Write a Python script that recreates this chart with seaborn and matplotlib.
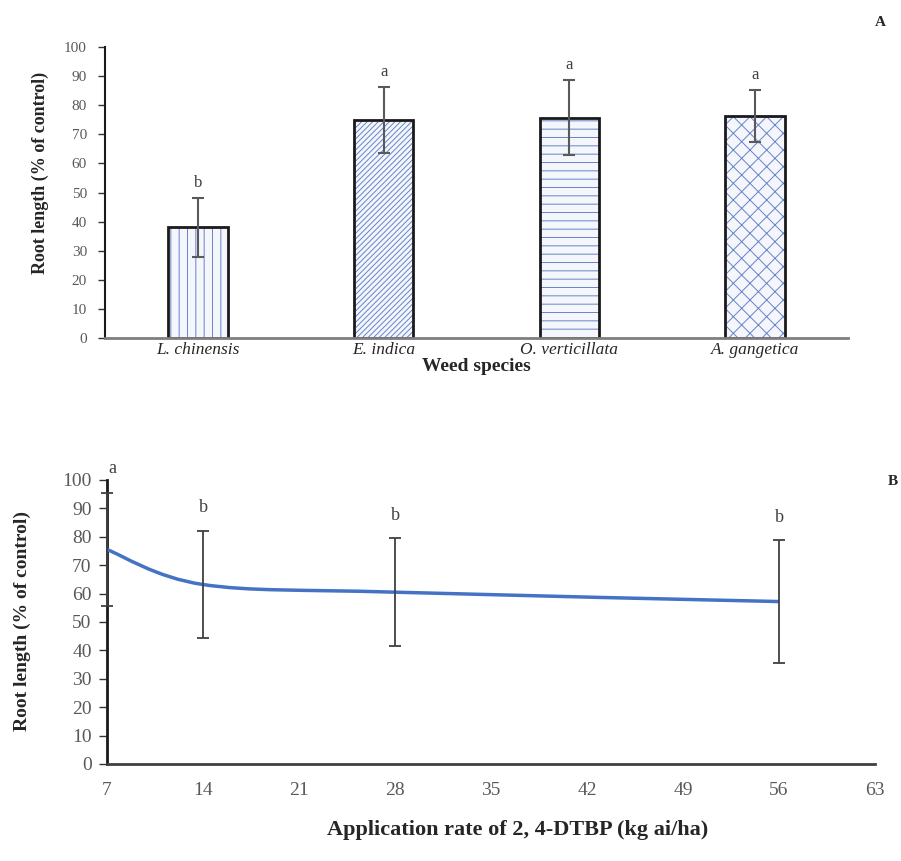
import matplotlib
matplotlib.use("Agg")
import matplotlib.pyplot as plt
from matplotlib.path import Path
from matplotlib.patches import PathPatch
import seaborn as sns
import pandas as pd
import numpy as np

# ---- data ----
species = ["L. chinensis", "E. indica", "O. verticillata", "A. gangetica"]
root_pct = [38.0, 75.0, 75.7, 76.2]
root_err = [10.0, 11.3, 12.9, 9.0]
species_letters = ["b", "a", "a", "a"]

rates = [7, 14, 28, 56]
rate_pct = [75.5, 63.2, 60.5, 57.2]
rate_err = [20.0, 19.0, 19.0, 21.6]
rate_letters = ["a", "b", "b", "b"]

sns.set_theme(style="white")
plt.rcParams["font.family"] = ["Liberation Serif", "DejaVu Serif"]
plt.rcParams["hatch.linewidth"] = 0.7

fig = plt.figure(figsize=(9.01, 8.61), dpi=100)
tick_grey = "#595959"

# ---------------- Panel A ----------------
axA = fig.add_axes([105/901, 1-338/861, (848-105)/901, (338-47)/861])
df = pd.DataFrame({"species": species, "pct": root_pct})
sns.barplot(data=df, x="species", y="pct", ax=axA, width=0.32,
            color="#f3f6fc", edgecolor="#6485c8", linewidth=0, errorbar=None)
hatches = ["||", "//////", "--", "xx"]
for p, h in zip(axA.patches, hatches):
    p.set_hatch(h)
sns.barplot(data=df, x="species", y="pct", ax=axA, width=0.32,
            fill=False, edgecolor="#1a1a1a", linewidth=2.0, errorbar=None)
xpos = np.arange(len(species))
axA.errorbar(xpos, root_pct, yerr=root_err, fmt="none", ecolor="#595959",
             elinewidth=1.5, capsize=4, capthick=1.5, zorder=5)
for i, (v, e, l) in enumerate(zip(root_pct, root_err, species_letters)):
    axA.text(i, v + e + 2.5, l, ha="center", va="bottom", fontsize=12, color="#404040")
axA.set_ylim(0, 100)
axA.set_xlim(-0.5, 3.5)
axA.set_yticks(range(0, 101, 10))
axA.tick_params(axis="y", length=5, width=1, color="#333333", labelcolor=tick_grey,
                labelsize=11, direction="out", left=True, pad=8)
axA.tick_params(axis="x", length=0, labelsize=12.5, pad=3)
for t in axA.get_xticklabels():
    t.set_fontstyle("italic")
axA.set_xlabel("Weed species", fontsize=14, fontweight="bold", labelpad=0)
axA.set_ylabel("")
for s in ["top", "right"]:
    axA.spines[s].set_visible(False)
axA.spines["left"].set_color("#1a1a1a")
axA.spines["left"].set_linewidth(1.5)
axA.spines["bottom"].set_color("#7f7f7f")
axA.spines["bottom"].set_linewidth(2.0)
fig.text(40/901, 1-173/861, "Root length (% of control)", rotation=90,
         fontsize=13, fontweight="bold", ha="center", va="center")
fig.text(880/901, 1-22/861, "A", fontsize=11, fontweight="bold", ha="center", va="center")

# ---------------- Panel B ----------------
axB = fig.add_axes([107/901, 1-764/861, (875-107)/901, (764-480)/861])
axB.set_xlim(7, 63)
axB.set_ylim(0, 100)

# smoothed (Excel-like) curve through the points
xs = np.array(rates, float)
ys = np.array(rate_pct, float)
n = len(xs)
verts = [(xs[0], ys[0])]
codes = [Path.MOVETO]
for i in range(n - 1):
    p0 = np.array([xs[max(i-1, 0)], ys[max(i-1, 0)]])
    p1 = np.array([xs[i], ys[i]])
    p2 = np.array([xs[i+1], ys[i+1]])
    p3 = np.array([xs[min(i+2, n-1)], ys[min(i+2, n-1)]])
    c1 = p1 + (p2 - p0) / 6
    c2 = p2 - (p3 - p1) / 6
    verts += [tuple(c1), tuple(c2), tuple(p2)]
    codes += [Path.CURVE4] * 3
axB.add_patch(PathPatch(Path(verts, codes), facecolor="none", edgecolor="#4472c4",
                        linewidth=2.5, zorder=3))
axB.errorbar(rates, rate_pct, yerr=rate_err, fmt="none", ecolor="#404040",
             elinewidth=1.3, capsize=4, capthick=1.3, zorder=4, clip_on=False)
for x, v, e, l in zip(rates, rate_pct, rate_err, rate_letters):
    y = v + e + 5 if l == "b" else 101
    axB.text(x + (0.4 if l == "a" else 0), y, l, ha="center", va="bottom",
             fontsize=13, color="#404040")
axB.set_xticks(range(7, 64, 7))
axB.set_yticks(range(0, 101, 10))
axB.tick_params(axis="y", length=6, width=1, color="#333333", labelcolor=tick_grey,
                labelsize=14, direction="out", left=True, pad=5)
axB.tick_params(axis="x", length=0, labelcolor=tick_grey, labelsize=14, pad=13)
axB.set_ylabel("")
for s in ["top", "right"]:
    axB.spines[s].set_visible(False)
axB.spines["left"].set_color("#1a1a1a")
axB.spines["left"].set_linewidth(2.0)
axB.spines["bottom"].set_color("#404040")
axB.spines["bottom"].set_linewidth(2.0)
fig.text(22/901, 1-621/861, "Root length (% of control)", rotation=90,
         fontsize=14, fontweight="bold", ha="center", va="center")
fig.text(518/901, 1-830/861, "Application rate of 2, 4-DTBP (kg ai/ha)",
         fontsize=16, fontweight="bold", ha="center", va="center")
fig.text(893/901, 1-482/861, "B", fontsize=11, fontweight="bold", ha="center", va="center")

fig.savefig("out.png", dpi=100)
